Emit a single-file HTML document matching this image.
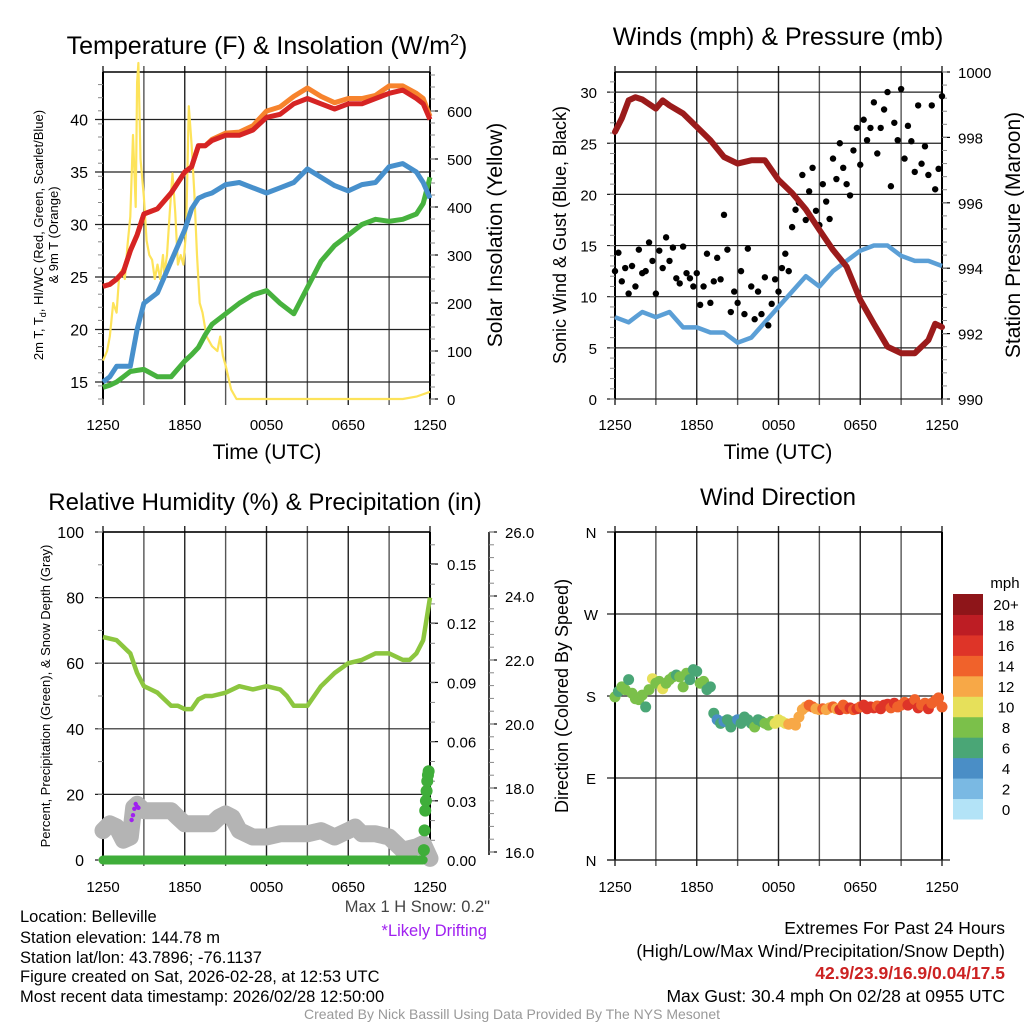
<!DOCTYPE html>
<html><head><meta charset="utf-8"><style>
html,body{margin:0;padding:0;background:#fff;}
svg{display:block;font-family:"Liberation Sans",Arial,sans-serif;}
</style></head><body>
<svg id="c" width="1024" height="1024" viewBox="0 0 1024 1024" xmlns="http://www.w3.org/2000/svg"></svg>
<script>
// ---------- DATA ----------
const tempHours=[0,0.5,1,1.5,2,2.5,3,4,5,6,6.5,7,7.5,8,9,10,11,12,13,14,15,16,17,18,19,20,21,22,23,23.5,24];
const tempRed=[24.1,24.3,24.8,25.5,27.5,29,31,31.5,33,35,35.5,37.5,37.5,38,38.5,38.5,39,40.2,40.5,41.5,42,41.5,41,41.5,41.5,42,42.5,42.8,42,41.5,40];
const tempOrange=[24.1,24.3,24.8,25.5,27.5,29,31,31.5,33,35,35.5,37.5,37.5,38.1,38.7,38.8,39.4,40.8,41.2,42.2,43,42.2,41.6,42,42,42.3,43.2,43.2,42.5,42,40.3];
const windChill=[15,15.5,16.5,16.5,16.5,20,22.5,23.5,26.5,29.5,31.5,32.5,32.8,33,33.8,34,33.5,33,33.5,34,35.3,34.5,33.7,33.2,33.8,34,35.5,35.8,35,34,32.5];
const dewPoint=[14.5,14.7,15,15.5,16,16.1,16.2,15.5,15.5,17,17.6,18.3,19.5,20.5,21.5,22.5,23.3,23.7,22.5,21.5,24,26.5,28,29,30,30.5,30.3,30.5,31,32,34.5];
const solarHours=[0,0.3,0.5,0.75,1,1.2,1.4,1.6,1.8,2,2.2,2.4,2.5,2.6,2.75,3,3.2,3.4,3.6,3.8,4,4.2,4.4,4.5,4.7,4.9,5.1,5.3,5.5,5.7,5.9,6.1,6.3,6.5,6.7,6.9,7.1,7.3,7.6,8,8.4,8.6,8.8,9,9.4,9.8,22,23,24];
const solarW=[80,100,130,200,180,260,270,250,320,380,550,400,660,700,500,420,330,300,290,250,280,250,300,260,300,390,470,390,280,300,280,350,610,530,430,300,200,180,130,110,100,130,90,70,20,0,0,5,15];
const presHours=[0,0.5,1,1.5,2,3,3.5,4,5,6,7,8,9,10,11,12,13,14,15,16,17,18,19,20,21,22,23,23.5,24];
const pressure=[998.17,998.58,999.13,999.23,999.16,998.88,999.13,998.98,998.73,998.32,997.91,997.4,997.2,997.3,997.3,996.7,996.3,995.8,995.17,994.56,994.05,993.03,992.3,991.6,991.4,991.4,991.8,992.3,992.2];
const windHours=[0,1,2,3,4,5,6,7,8,9,10,11,12,13,14,15,16,17,18,19,20,21,22,23,24];
const windSpeed=[8,7.5,8.5,8,8.5,7,7,6.5,6.5,5.5,6,7.5,9,10.5,12,11,12.5,13.5,14.5,15,15,14,13.5,13.5,13];
const gustValues=[12.5,14.3,11.5,12.8,10.3,13,11,14.6,12.3,
12.5,15.3,13.5,10.3,14.5,12.8,15.8,13.5,
14.8,11.8,11.3,14.9,12.3,11.8,11,12.3,
9.2,11,14.2,9.4,11.5,13.8,11.7,18,
14.6,8.5,10.5,9.4,12.5,8.3,14.7,11,
7.8,10.5,8.3,11.9,7.2,9.3,11.7,10.5,
12.8,14.2,12.5,16.8,18.5,19.2,21.9,17.5,
20.3,22.6,18.4,17,21,19.3,17.6,23.5,
21.5,25,22.6,21,19.9,24.3,26.5,22.9,
27.3,25.3,26.5,29,24,26.5,28.3,30,
20.8,27,25.3,30.3,23.5,26.7,25.2,22.2,
28.7,23,24.7,21.9,28.7,20.5,22.5,29.6];
const rhHours=[0,1,1.5,2,2.5,3,3.5,4,4.5,5,5.5,6,6.5,7,7.5,8,9,10,11,12,13,13.5,14,14.5,15,16,17,18,19,20,21,22,22.5,23,23.5,24];
const rhValues=[68,67,65,63,57,53,52,51,49,47,47,46,46,49,50,50,51,53,52,53,52,50,47,47,47,53,57,60,61,63,63,61,61,63,67,80];
const snowHours=[0,0.5,1,1.5,2,2.25,2.5,3,4,5,5.5,6,7,8,8.5,9,9.5,10,11,12,13,14,15,16,17,18,18.5,19,20,21,22,23,23.5,24];
const snowDepth=[16.67,16.88,16.78,16.37,16.47,17.39,17.49,17.29,17.29,17.29,17.08,16.88,16.88,16.88,17.08,17.19,17.08,16.67,16.47,16.47,16.57,16.57,16.57,16.67,16.47,16.67,16.78,16.57,16.57,16.47,16.06,16.16,16.26,15.8];
const driftHours=[2.1,2.2,2.3,2.4,2.5,2.6];
const driftSnow=[17.0,17.15,17.35,17.5,17.42,17.38];
const precipHours=[23.55,23.6,23.65,23.7,23.75,23.8,23.85,23.9];
const precipValues=[0.005,0.015,0.025,0.03,0.035,0.04,0.043,0.045];
const dirValues=[179,185,190,187,198,183,177,176,181,168,187,199,194,196,188,194,198,201,203,201,190,205,198,209,207,194,196,187,190,161,154,150,152,154,146,152,154,150,157,154,150,146,154,152,150,148,152,150,154,152,150,149,150,148,157,165,168,170,168,166,165,
166,165,167,168,166,165,170,166,167,165,166,168,170,166,168,167,169,166,170,171,167,172,168,170,173,170,172,176,167,170,172,166,172,175,178,168];
const dirSpeed=[8,7,8,9,7,8,8,9,8,7,8,10,9,8,10,9,8,9,7,9,8,9,7,6,7,8,9,7,6,
7,5,6,5,7,6,7,5,7,6,6,7,8,6,7,8,8,9,10,11,10,11,12,13,12,
12,13,12,15,14,12,13,15,13,12,15,13,16,15,14,17,15,16,14,17,16,16,17,15,16,16,17,15,16,14,14,15,16,17,15,16,15,14,16,15,15,15,14];
const timeLabels=["1250","1850","0050","0650","1250"];
const tempTicks=[15,20,25,30,35,40];
const solarTicks=[0,100,200,300,400,500,600];
const windTicks=[0,5,10,15,20,25,30];
const presTicks=[990,992,994,996,998,1000];
const rhTicks=[0,20,40,60,80,100];
const precipTicks=[0,0.03,0.06,0.09,0.12,0.15];
const snowTicks=[16,18,20,22,24,26];
const dirTicks=[0,90,180,270,360];
const dirNames=["N","E","S","W","N"];
const cbarLabels=["0","2","4","6","8","10","12","14","16","18","20+"];
const cbarColors=["#b3e3f7","#7ab9e3","#4a8ec6","#4aa676","#7bc04a","#e6e05a","#f7a847","#f0622b","#de3428","#bd1d24","#8e1519"];

// ---------- HELPERS ----------
const svg=document.getElementById('c');
const NS="http://www.w3.org/2000/svg";
function mk(tag,attrs,parent){const e=document.createElementNS(NS,tag);for(const k in attrs)e.setAttribute(k,attrs[k]);(parent||svg).appendChild(e);return e;}
function grp(name){const g=mk('g',{});return g;}
function txt(g,x,y,s,size,anchor,extra){const t=mk('text',Object.assign({x:x,y:y,'font-size':size,'text-anchor':anchor||'start',fill:'#000'},extra||{}),g);t.textContent=s;return t;}
function pathFrom(xs,ys,fx,fy){let d='';for(let i=0;i<xs.length;i++){d+=(i?'L':'M')+fx(xs[i]).toFixed(1)+','+fy(ys[i]).toFixed(1);}return d;}

const PW=327;
function makeX(x0){return h=>x0+h*PW/24;}
function frame(g,x0,yT,yB,hGrid){
  for(let i=0;i<=8;i++){const x=x0+i*PW/8;mk('line',{x1:x,y1:yT-6,x2:x,y2:yB+6,stroke:(i%2?'#555':'#222'),'stroke-width':1.4},g);}
  hGrid.forEach(y=>mk('line',{x1:x0-8,y1:y,x2:x0+PW,y2:y,stroke:'#222','stroke-width':1.2},g));
  mk('line',{x1:x0,y1:yT,x2:x0+PW,y2:yT,stroke:'#000','stroke-width':1.4},g);
  mk('line',{x1:x0,y1:yT,x2:x0,y2:yB,stroke:'#000','stroke-width':2},g);
  mk('line',{x1:x0+PW,y1:yT,x2:x0+PW,y2:yB,stroke:'#000','stroke-width':2},g);
}
function xLabels(g,X,y){timeLabels.forEach((l,i)=>{const t=txt(g,X(i*6),y,l,15,'middle');});}
function minorTicks(g,x,y0,y1,step,dir){for(let y=y0;y>=y1-0.1;y-=step){mk('line',{x1:x,y1:y,x2:x+dir*5,y2:y,stroke:'#888','stroke-width':1},g);}}

// ---------- PANEL 1 ----------
(function(){
  const g=grp('temperature-panel');
  const X=makeX(103),Y=v=>382-(v-15)*10.5,S=w=>399-w*0.48;
  frame(g,103,72,399,tempTicks.map(Y));
  minorTicks(g,103,399,72,13.1,-1);
  tempTicks.forEach(v=>{txt(g,88,Y(v)+6,String(v),16,'end');});
  solarTicks.forEach(v=>{mk('line',{x1:430,y1:S(v),x2:438,y2:S(v),stroke:'#000','stroke-width':1.2},g);txt(g,447,S(v)+6,String(v),15,'start');});
  minorTicks(g,430,399,72,12,1);
  const ys=mk('path',{d:pathFrom(solarHours,solarW,X,S),fill:'none',stroke:'#fde35a','stroke-width':2.2,'stroke-linejoin':'round'},g);
  
  const go=mk('path',{d:pathFrom(tempHours,dewPoint,X,Y),fill:'none',stroke:'#47b23e','stroke-width':5,'stroke-linejoin':'round'},g);
  
  const bl=mk('path',{d:pathFrom(tempHours,windChill,X,Y),fill:'none',stroke:'#4790cc','stroke-width':5,'stroke-linejoin':'round'},g);
  
  const or=mk('path',{d:pathFrom(tempHours,tempOrange,X,Y),fill:'none',stroke:'#f7832d','stroke-width':5,'stroke-linejoin':'round'},g);
  
  const rd=mk('path',{d:pathFrom(tempHours,tempRed,X,Y),fill:'none',stroke:'#d62424','stroke-width':5,'stroke-linejoin':'round'},g);
  
  xLabels(g,X,430);
  const t1=txt(g,267,54,'',25,'middle');t1.innerHTML='Temperature (F) &amp; Insolation (W/m<tspan dy="-9" font-size="16">2</tspan><tspan dy="9">)</tspan>';
  
  const xt=txt(g,267,459,'Time (UTC)',21,'middle');
  const yl=txt(g,0,0,'',13,'middle',{transform:'translate(43,235) rotate(-90)'});
  yl.innerHTML='2m T, T<tspan dy="3" font-size="9">d</tspan><tspan dy="-3">, HI/WC (Red, Green, Scarlet/Blue)</tspan>';
  
  const yl2=txt(g,0,0,'& 9m T (Orange)',13,'middle',{transform:'translate(58,235) rotate(-90)'});
  
  const yr=txt(g,0,0,'Solar Insolation (Yellow)',21,'middle',{transform:'translate(502,235) rotate(-90)'});
  
})();

// ---------- PANEL 2 ----------
(function(){
  const g=grp('winds-panel');
  const X=makeX(615),Y=v=>399-v*10.23,P=p=>399-(p-990)*32.7;
  frame(g,615,72,399,windTicks.map(Y));
  minorTicks(g,615,399,72,10.23,-1);
  windTicks.forEach(v=>txt(g,597,Y(v)+6,String(v),15,'end'));
  presTicks.forEach(v=>{mk('line',{x1:942,y1:P(v),x2:950,y2:P(v),stroke:'#000','stroke-width':1.2},g);txt(g,958,P(v)+6,String(v),15,'start');});
  minorTicks(g,942,399,72,13.08,1);
  const bl=mk('path',{d:pathFrom(windHours,windSpeed,X,Y),fill:'none',stroke:'#5b9fd6','stroke-width':4.5,'stroke-linejoin':'round'},g);
  
  gustValues.forEach((v,i)=>{const c=mk('circle',{cx:X(i*0.25),cy:Y(v),r:3.2,fill:'#000'},g);
    });
  const pr=mk('path',{d:pathFrom(presHours,pressure,X,P),fill:'none',stroke:'#9b1b1b','stroke-width':6,'stroke-linejoin':'round','stroke-linecap':'round'},g);
  
  xLabels(g,X,430);
  const t=txt(g,778,45,'Winds (mph) & Pressure (mb)',25,'middle');
  const xt=txt(g,778,459,'Time (UTC)',21,'middle');
  const yl=txt(g,0,0,'Sonic Wind & Gust (Blue, Black)',18,'middle',{transform:'translate(566,235) rotate(-90)'});
  const yr=txt(g,0,0,'Station Pressure (Maroon)',21,'middle',{transform:'translate(1020,235) rotate(-90)'});
})();

// ---------- PANEL 3 ----------
(function(){
  const g=grp('humidity-panel');
  const X=makeX(103),Y=p=>860-p*3.28,PR=v=>860-v*1973,SN=s=>852-(s-16)*32;
  frame(g,103,532,860,rhTicks.map(Y));
  minorTicks(g,103,860,532,32.8,-1);
  rhTicks.forEach(v=>txt(g,84,Y(v)+6,String(v),16,'end'));
  precipTicks.forEach(v=>{mk('line',{x1:430,y1:PR(v),x2:438,y2:PR(v),stroke:'#000','stroke-width':1.2},g);txt(g,447,PR(v)+6,v.toFixed(2),15,'start');});
  minorTicks(g,430,860,532,19.7,1);
  mk('line',{x1:489,y1:532,x2:489,y2:855,stroke:'#000','stroke-width':1.5},g);
  snowTicks.forEach(v=>{mk('line',{x1:489,y1:SN(v),x2:497,y2:SN(v),stroke:'#000','stroke-width':1.2},g);txt(g,505,SN(v)+6,v.toFixed(1),15,'start');});
  minorTicks(g,489,852,532,12.8,1);
  const rh=mk('path',{d:pathFrom(rhHours,rhValues,X,Y),fill:'none',stroke:'#8cc63f','stroke-width':4.5,'stroke-linejoin':'round'},g);
  
  const sn=mk('path',{d:pathFrom(snowHours,snowDepth,X,SN),fill:'none',stroke:'#b4b4b4','stroke-width':17,'stroke-linejoin':'round','stroke-linecap':'round'},g);
  
  driftHours.forEach((h,i)=>{const c=mk('circle',{cx:X(h),cy:SN(driftSnow[i]),r:2.2,fill:'#a020f0'},g);});
  const pl=mk('line',{x1:X(0),y1:PR(0),x2:X(23.5),y2:PR(0),stroke:'#3fae3a','stroke-width':9,'stroke-linecap':'round'},g);
  
  precipHours.forEach((h,i)=>{const c=mk('circle',{cx:X(h),cy:PR(precipValues[i]),r:6,fill:'#3fae3a'},g);});
  xLabels(g,X,892);
  const t=txt(g,265,510,'Relative Humidity (%) & Precipitation (in)',24,'middle');
  const yl=txt(g,0,0,'Percent, Precipitation (Green), & Snow Depth (Gray)',13,'middle',{transform:'translate(50,696) rotate(-90)'});
})();

// ---------- PANEL 4 ----------
(function(){
  const g=grp('wind-direction-panel');
  const X=makeX(615),D=d=>860-d*328/360;
  frame(g,615,532,860,dirTicks.map(D));
  mk('line',{x1:607,y1:860,x2:950,y2:860,stroke:'#222','stroke-width':1.2},g);
  dirTicks.forEach((v,i)=>txt(g,591,D(v)+6,dirNames[i],15,'middle'));
  dirValues.forEach((d,i)=>{const s=dirSpeed[Math.min(i,dirSpeed.length-1)];const bin=Math.min(10,Math.floor(s/2));
    const c=mk('circle',{cx:X(i*0.25),cy:D(d),r:5.5,fill:cbarColors[bin]},g);
    });
  const cb=mk('g',{},g);
  const bh=225/11;
  cbarColors.forEach((c,i)=>{mk('rect',{x:953,y:819-(i+1)*bh,width:30,height:bh+0.5,fill:c},cb);txt(cb,1006,819-i*bh-bh/2+6,cbarLabels[i],15,'middle');});
  txt(cb,1005,588,'mph',15,'middle');
  xLabels(g,X,892);
  const t=txt(g,778,505,'Wind Direction',24,'middle');
  const yl=txt(g,0,0,'Direction (Colored By Speed)',18,'middle',{transform:'translate(568,696) rotate(-90)'});
})();

// ---------- FOOTER TEXT ----------
(function(){
  const g=grp('station-info');
  ['Location: Belleville','Station elevation: 144.78 m','Station lat/lon: 43.7896; -76.1137','Figure created on Sat, 2026-02-28, at 12:53 UTC','Most recent data timestamp: 2026/02/28 12:50:00'].forEach((s,i)=>txt(g,20,[922,943,963,982,1002][i],s,16.5,'start'));
  const s1=txt(g,490,912,'Max 1 H Snow: 0.2"',16.5,'end',{fill:'#444'});
  const s2=txt(g,487,936,'*Likely Drifting',16.5,'end',{fill:'#a020f0'});
  const r=grp('extremes-info');
  txt(r,1005,934,'Extremes For Past 24 Hours',17.5,'end');
  txt(r,1005,957,'(High/Low/Max Wind/Precipitation/Snow Depth)',17.5,'end');
  txt(r,1005,979,'42.9/23.9/16.9/0.04/17.5',17.5,'end',{fill:'#cc2222','font-weight':'bold'});
  txt(r,1005,1002,'Max Gust: 30.4 mph On 02/28 at 0955 UTC',17.5,'end');
  const f=txt(svg,512,1019,'Created By Nick Bassill Using Data Provided By The NYS Mesonet',14,'middle',{fill:'#999'});
  
})();
</script>
</body></html>
